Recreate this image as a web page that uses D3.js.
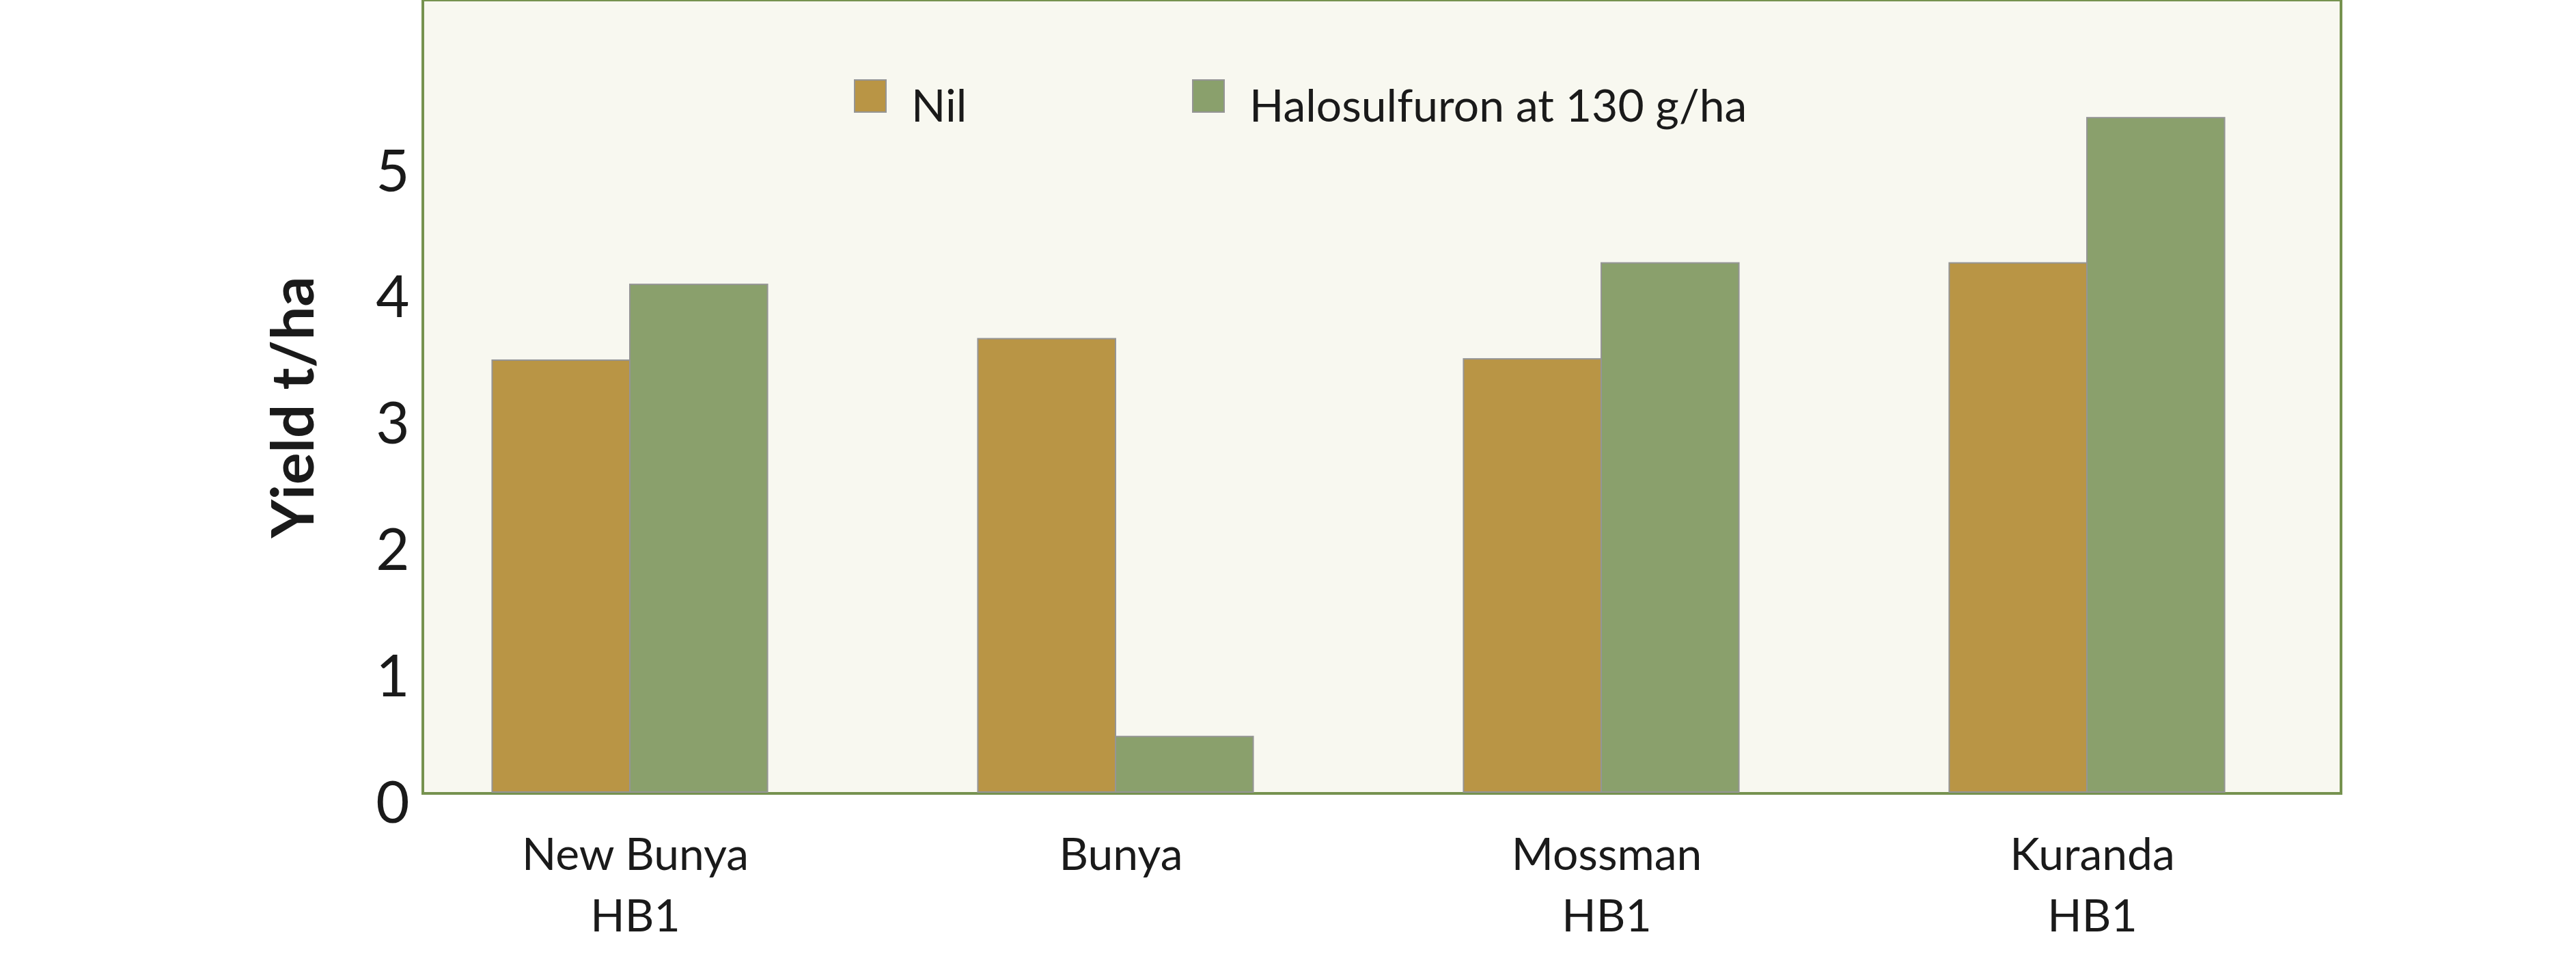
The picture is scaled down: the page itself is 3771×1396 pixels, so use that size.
<!DOCTYPE html>
<html>
<head>
<meta charset="utf-8">
<script src="https://cdn.jsdelivr.net/npm/d3@7"></script>
<style>
  html, body { margin: 0; padding: 0; background: #ffffff; }
  svg { display: block; }
  text { font-family: Lato, "Open Sans", "Liberation Sans", sans-serif; fill: #1a1a1a; }
</style>
</head>
<body>
<svg id="chart" width="3771" height="1396"></svg>
<script>
// ---- data ----
const categories = ["New Bunya\nHB1", "Bunya", "Mossman\nHB1", "Kuranda\nHB1"];
const seriesNames = ["Nil", "Halosulfuron at 130 g/ha"];
const nilValues = [3.42, 3.59, 3.43, 4.19];
const halosulfuronValues = [4.02, 0.44, 4.19, 5.34];
const yTicks = [0, 1, 2, 3, 4, 5];
const yTitle = "Yield t/ha";
const colors = ["#B99545", "#8AA06C"];

// ---- layout ----
const W = 3771, H = 1396;
const frame = { x: 619, y: 0, w: 2808, h: 1161 };
const baseY = 1159, unit = 184.8;

const svg = d3.select("#chart");

const y = d3.scaleLinear().domain([0, 6]).range([baseY, baseY - 6 * unit]);
const x0 = d3.scaleBand().domain(categories).range([566.5, 3410.5]).paddingInner(0.433).paddingOuter(0.2165);
const x1 = d3.scaleBand().domain(seriesNames).range([0, x0.bandwidth()]).padding(0);

// plot frame
svg.append("rect")
  .attr("x", frame.x).attr("y", frame.y)
  .attr("width", frame.w).attr("height", frame.h)
  .attr("fill", "#F8F8F0")
  .attr("stroke", "#76924F").attr("stroke-width", 4);

// bars
const table = categories.map((c, i) => ({ cat: c, values: [nilValues[i], halosulfuronValues[i]] }));
const groups = svg.append("g").selectAll("g").data(table).join("g")
  .attr("transform", d => `translate(${x0(d.cat)},0)`);
groups.selectAll("rect")
  .data(d => d.values.map((v, j) => ({ name: seriesNames[j], v, j })))
  .join("rect")
  .attr("x", d => x1(d.name))
  .attr("y", d => y(d.v))
  .attr("width", x1.bandwidth())
  .attr("height", d => y(0) - y(d.v))
  .attr("fill", d => colors[d.j])
  .attr("stroke", "#959595").attr("stroke-width", 2);

// y axis (labels only)
const yAxis = svg.append("g").attr("transform", `translate(${frame.x},0)`)
  .call(d3.axisLeft(y).tickValues(yTicks).tickSize(0).tickFormat(d3.format("d")));
yAxis.select(".domain").remove();
yAxis.selectAll("text")
  .attr("x", -44).attr("y", 44).attr("dy", null)
  .attr("text-anchor", "middle")
  .style("font-family", "Lato, sans-serif")
  .style("font-size", "85px").style("fill", "#1a1a1a");

// y title
svg.append("text")
  .attr("transform", "translate(459,596) rotate(-90)")
  .attr("text-anchor", "middle")
  .style("font-size", "87px").style("font-weight", "bold")
  .text(yTitle);

// x axis (labels only)
const xAxis = svg.append("g").attr("transform", `translate(0,${baseY})`)
  .call(d3.axisBottom(x0).tickSize(0).tickFormat(""));
xAxis.select(".domain").remove();
xAxis.selectAll(".tick").each(function(d) {
  const t = d3.select(this).append("text")
    .attr("text-anchor", "middle")
    .attr("x", 8)
    .style("font-family", "Lato, sans-serif")
    .style("font-size", "66px").style("fill", "#1a1a1a");
  d.split("\n").forEach((line, k) => {
    t.append("tspan").attr("x", 8).attr("y", 114 + k * 90).text(line);
  });
});

// legend
const legendX = [1251, 1746];
const legend = svg.append("g");
seriesNames.forEach((name, j) => {
  legend.append("rect")
    .attr("x", legendX[j]).attr("y", 117).attr("width", 46).attr("height", 47)
    .attr("fill", colors[j]).attr("stroke", "#959595").attr("stroke-width", 2);
  legend.append("text")
    .attr("x", legendX[j] + 83).attr("y", 178)
    .style("font-size", "66px")
    .text(name);
});
</script>
</body>
</html>
